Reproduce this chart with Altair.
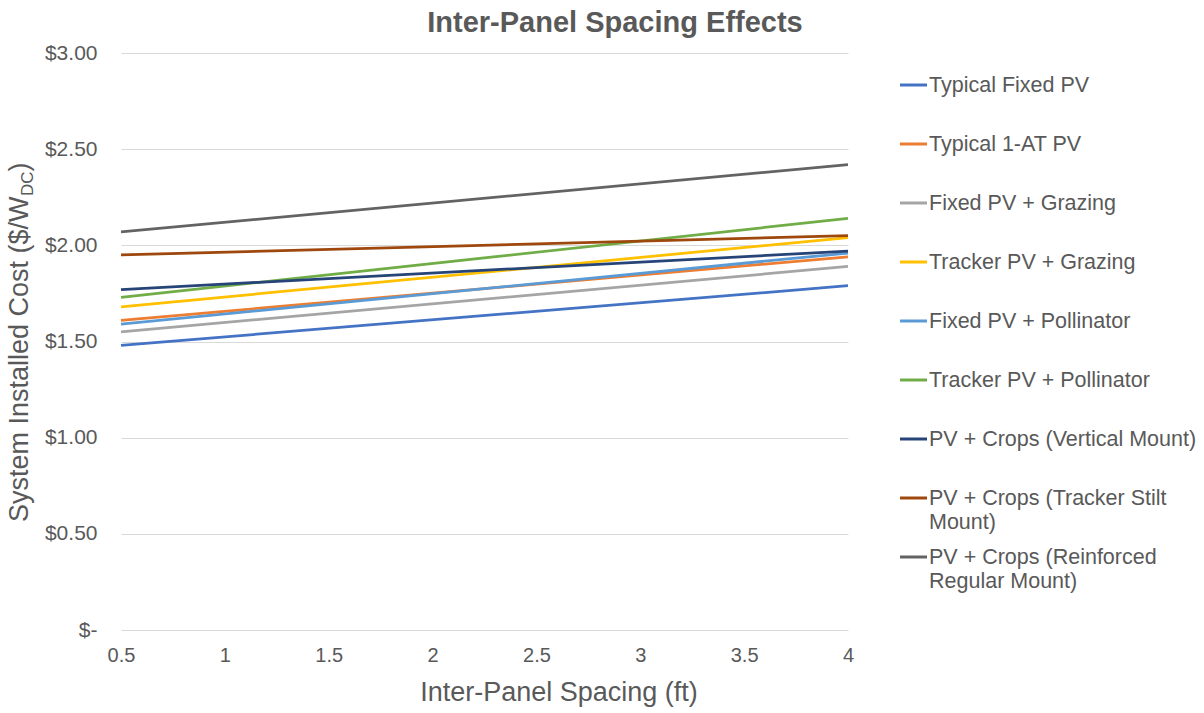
import altair as alt
import pandas as pd

# Series definitions
series = [
    "Typical Fixed PV",
    "Typical 1-AT PV",
    "Fixed PV + Grazing",
    "Tracker PV + Grazing",
    "Fixed PV + Pollinator",
    "Tracker PV + Pollinator",
    "PV + Crops (Vertical Mount)",
    "PV + Crops (Tracker Stilt Mount)",
    "PV + Crops (Reinforced Regular Mount)",
]
legend_labels = [
    "Typical Fixed PV",
    "Typical 1-AT PV",
    "Fixed PV + Grazing",
    "Tracker PV + Grazing",
    "Fixed PV + Pollinator",
    "Tracker PV + Pollinator",
    "PV + Crops (Vertical Mount)",
    "PV + Crops (Tracker Stilt\nMount)",
    "PV + Crops (Reinforced\nRegular Mount)",
]
colors = [
    "#4472C4", "#ED7D31", "#A5A5A5", "#FFC000", "#5B9BD5",
    "#70AD47", "#264478", "#9E480E", "#636363",
]

# Inter-panel spacing (ft) and installed cost ($/W_DC) at each end
spacing_ft = [0.5, 4.0]
cost_at_min = [1.48, 1.61, 1.55, 1.68, 1.59, 1.73, 1.77, 1.95, 2.07]
cost_at_max = [1.79, 1.94, 1.89, 2.04, 1.96, 2.14, 1.97, 2.05, 2.42]

x_ticks = [0.5, 1, 1.5, 2, 2.5, 3, 3.5, 4]
y_ticks = [0, 0.5, 1.0, 1.5, 2.0, 2.5, 3.0]

rows = []
for i, (name, a, b) in enumerate(zip(series, cost_at_min, cost_at_max)):
    rows.append({"series": name, "spacing": spacing_ft[0], "cost": a, "k": i})
    rows.append({"series": name, "spacing": spacing_ft[1], "cost": b, "k": i})
df = pd.DataFrame(rows)

FONT = "Liberation Sans"
TXT = "#595959"
W, H = 727, 577

color_enc = alt.Color(
    "series:N", scale=alt.Scale(domain=series, range=colors), legend=None
)

lines = alt.Chart(df).mark_line(strokeWidth=2.75).encode(
    x=alt.X(
        "spacing:Q",
        scale=alt.Scale(domain=[0.5, 4], nice=False, zero=False),
        axis=alt.Axis(
            values=x_ticks, format="~g", title=None, grid=False, domain=False,
            ticks=False, labelFontSize=20, labelPadding=15, labelColor=TXT,
            labelFont=FONT, labelFlush=False,
        ),
    ),
    y=alt.Y(
        "cost:Q",
        scale=alt.Scale(domain=[0, 3], nice=False),
        axis=alt.Axis(
            values=y_ticks,
            labelExpr="datum.value == 0 ? '$-\u00a0\u00a0' : '$' + format(datum.value, '.2f')",
            title=None, grid=True, gridColor="#D9D9D9", gridWidth=1,
            domain=False, ticks=False, labelFontSize=21, labelPadding=24,
            labelColor=TXT, labelFont=FONT,
        ),
    ),
    color=color_enc,
    detail="k:O",
)

# Legend built from the same series list
leg_df = pd.DataFrame(
    {"series": series, "label": legend_labels, "row": list(range(len(series)))}
)
leg_y = alt.Y(
    "row:Q",
    scale=alt.Scale(domain=[0, len(series) - 1], range=[32, 504], nice=False, zero=False),
    axis=None,
)
legend_swatch = alt.Chart(leg_df).mark_rule(strokeWidth=3).encode(
    x=alt.value(779), x2=alt.value(806), y=leg_y, color=color_enc
)
legend_text = alt.Chart(leg_df).mark_text(
    align="left", baseline="alphabetic", dy=7, lineBreak="\n", lineHeight=23.5,
    fontSize=21.5, font=FONT, color=TXT,
).encode(x=alt.value(808), y=leg_y, text="label:N")

# Titles
title = alt.Chart(pd.DataFrame({"t": ["Inter-Panel Spacing Effects"]})).mark_text(
    align="center", baseline="alphabetic", fontSize=29, fontWeight="bold",
    font=FONT, color=TXT,
).encode(x=alt.value(494), y=alt.value(-21), text="t:N")

x_title = alt.Chart(pd.DataFrame({"t": ["Inter-Panel Spacing (ft)"]})).mark_text(
    align="center", baseline="alphabetic", fontSize=27, font=FONT, color=TXT,
).encode(x=alt.value(438), y=alt.value(648), text="t:N")

y_title_main = alt.Chart(pd.DataFrame({"t": ["System Installed Cost ($/W"]})).mark_text(
    align="left", baseline="alphabetic", angle=270, fontSize=27, font=FONT, color=TXT,
).encode(x=alt.value(-93), y=alt.value(469), text="t:N")

y_title_sub = alt.Chart(pd.DataFrame({"t": ["DC"]})).mark_text(
    align="left", baseline="alphabetic", angle=270, fontSize=17, font=FONT, color=TXT,
).encode(x=alt.value(-88), y=alt.value(143), text="t:N")

y_title_end = alt.Chart(pd.DataFrame({"t": [")"]})).mark_text(
    align="left", baseline="alphabetic", angle=270, fontSize=27, font=FONT, color=TXT,
).encode(x=alt.value(-93), y=alt.value(118.5), text="t:N")

chart = (
    alt.layer(
        lines, legend_swatch, legend_text, title, x_title,
        y_title_main, y_title_sub, y_title_end,
    )
    .resolve_scale(y="independent")
    .properties(
        width=W,
        height=H,
        autosize=alt.AutoSizeParams(type="none"),
        padding={"left": 121, "top": 53, "right": 1204 - 121 - W, "bottom": 713 - 53 - H},
        background="white",
    )
    .configure_view(stroke=None)
)

chart.save("out.html", embed_options={"renderer": "svg", "actions": False})
